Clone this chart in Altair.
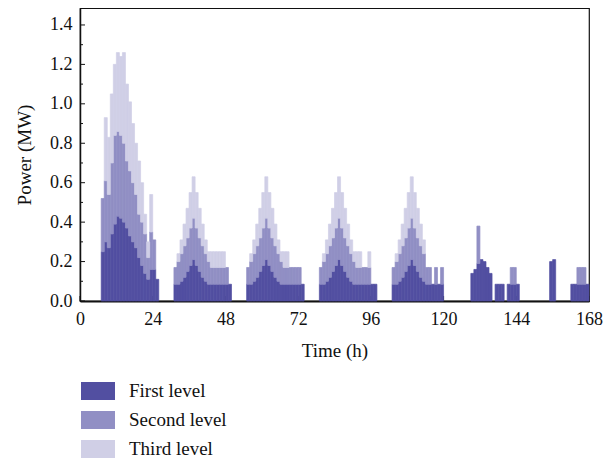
import altair as alt
import pandas as pd

# ---- data (hourly power per level, MW); each block: start hour + hourly values ----
b1_start = 7
b1_first  = [0.25, 0.30, 0.27, 0.34, 0.39, 0.43, 0.42, 0.40, 0.37, 0.33, 0.30, 0.27, 0.22, 0.18, 0.14, 0.11, 0.16, 0.16, 0.11]
b1_second = [0.27, 0.31, 0.27, 0.36, 0.45, 0.43, 0.42, 0.40, 0.34, 0.33, 0.30, 0.27, 0.22, 0.22, 0.20, 0.11, 0.19, 0.15, 0.00]
b1_third  = [0.00, 0.32, 0.29, 0.35, 0.36, 0.40, 0.40, 0.46, 0.39, 0.35, 0.30, 0.26, 0.27, 0.20, 0.10, 0.08, 0.19, 0.00, 0.00]

b2_start = 31
b2_first  = [0.085, 0.085, 0.10, 0.12, 0.15, 0.18, 0.21, 0.18, 0.15, 0.12, 0.10, 0.085, 0.085, 0.085, 0.085, 0.085, 0.085, 0.085, 0.085]
b2_second = [0.085, 0.115, 0.14, 0.16, 0.17, 0.19, 0.21, 0.19, 0.17, 0.16, 0.14, 0.115, 0.085, 0.085, 0.085, 0.085, 0.085, 0.085, 0.00]
b2_third  = [0.00, 0.04, 0.07, 0.11, 0.15, 0.18, 0.21, 0.18, 0.15, 0.11, 0.07, 0.05, 0.08, 0.08, 0.08, 0.08, 0.08, 0.00, 0.00]

b3_start = 55
b3_first  = [0.085, 0.085, 0.10, 0.12, 0.15, 0.18, 0.21, 0.18, 0.15, 0.12, 0.10, 0.085, 0.085, 0.085, 0.085, 0.085, 0.085, 0.085, 0.085]
b3_second = [0.085, 0.115, 0.14, 0.16, 0.17, 0.19, 0.21, 0.19, 0.17, 0.16, 0.14, 0.115, 0.085, 0.085, 0.085, 0.085, 0.085, 0.085, 0.00]
b3_third  = [0.00, 0.04, 0.07, 0.11, 0.15, 0.18, 0.21, 0.18, 0.15, 0.11, 0.07, 0.05, 0.08, 0.08, 0.00, 0.00, 0.00, 0.00, 0.00]

b4_start = 79
b4_first  = [0.085, 0.085, 0.10, 0.12, 0.15, 0.18, 0.21, 0.18, 0.15, 0.12, 0.10, 0.085, 0.085, 0.085, 0.085, 0.085, 0.085, 0.085, 0.085]
b4_second = [0.085, 0.115, 0.14, 0.16, 0.17, 0.19, 0.21, 0.19, 0.17, 0.16, 0.14, 0.115, 0.085, 0.085, 0.085, 0.085, 0.085, 0.00, 0.00]
b4_third  = [0.00, 0.04, 0.07, 0.11, 0.15, 0.18, 0.21, 0.18, 0.15, 0.11, 0.07, 0.05, 0.08, 0.08, 0.00, 0.00, 0.08, 0.00, 0.00]

b5_start = 103
b5_first  = [0.085, 0.085, 0.10, 0.12, 0.15, 0.18, 0.21, 0.18, 0.15, 0.12, 0.10, 0.085, 0.085, 0.085, 0.085, 0.085, 0.085]
b5_second = [0.085, 0.115, 0.14, 0.16, 0.17, 0.19, 0.21, 0.19, 0.17, 0.16, 0.14, 0.085, 0.085, 0.00, 0.085, 0.00, 0.085]
b5_third  = [0.00, 0.04, 0.07, 0.11, 0.15, 0.18, 0.21, 0.18, 0.15, 0.11, 0.07, 0.00, 0.00, 0.00, 0.00, 0.00, 0.00]

b6_start = 129
b6_first  = [0.14, 0.16, 0.19, 0.21, 0.20, 0.17, 0.14]
b6_second = [0.00, 0.00, 0.19, 0.00, 0.00, 0.00, 0.00]

b7_start = 137
b7_first  = [0.085, 0.085, 0.085]

b8_start = 141
b8_first  = [0.085, 0.085, 0.085, 0.085]
b8_second = [0.00, 0.085, 0.085, 0.00]

b9_start = 155
b9_first  = [0.20, 0.21]

b10_start = 162
b10_first  = [0.085, 0.085, 0.085, 0.085, 0.085, 0.085]
b10_second = [0.00, 0.00, 0.085, 0.085, 0.085, 0.00]

levels = ["First level", "Second level", "Third level"]
colors = ["#524fa1", "#918fc4", "#d0cfe6"]
x_ticks = [0, 24, 48, 72, 96, 120, 144, 168]
y_ticks = [0.0, 0.2, 0.4, 0.6, 0.8, 1.0, 1.2, 1.4]
y_minor = [0.1, 0.3, 0.5, 0.7, 0.9, 1.1, 1.3]

blocks = [
    (b1_start, b1_first, b1_second, b1_third),
    (b2_start, b2_first, b2_second, b2_third),
    (b3_start, b3_first, b3_second, b3_third),
    (b4_start, b4_first, b4_second, b4_third),
    (b5_start, b5_first, b5_second, b5_third),
    (b6_start, b6_first, b6_second, None),
    (b7_start, b7_first, None, None),
    (b8_start, b8_first, b8_second, None),
    (b9_start, b9_first, None, None),
    (b10_start, b10_first, b10_second, None),
]

rows = []
for start, f, s, t in blocks:
    for i in range(len(f)):
        h = start + i
        base = 0.0
        for lvl, arr in zip(levels, (f, s, t)):
            v = arr[i] if arr is not None else 0.0
            if v > 0:
                rows.append({"start": h, "end": h + 1, "level": lvl,
                             "y0": base, "y1": base + v, "order": levels.index(lvl)})
            base += v
df = pd.DataFrame(rows)

W, H = 509, 293
YMAX = 1.486
FONT = "Liberation Serif"

x_scale = alt.Scale(domain=[0, 168], nice=False, zero=False)
y_scale = alt.Scale(domain=[0, YMAX], nice=False)
x_axis = alt.Axis(values=x_ticks, title="Time (h)", format="d", labelFlush=False)
y_axis = alt.Axis(values=y_ticks, format=".1f", title="Power (MW)", labelFlush=False)
color_scale = alt.Scale(domain=levels, range=colors)

bars = alt.Chart(df).mark_bar(strokeWidth=0.7).encode(
    x=alt.X("start:Q", scale=x_scale, axis=x_axis),
    x2="end:Q",
    y=alt.Y("y0:Q", scale=y_scale, axis=y_axis),
    y2="y1:Q",
    color=alt.Color("level:N", scale=color_scale,
                    legend=alt.Legend(title=None, orient="none", legendX=1, legendY=366,
                                      symbolType="M-1,-0.53L1,-0.53L1,0.53L-1,0.53Z",
                                      symbolSize=1156, symbolStrokeWidth=0,
                                      symbolOpacity=1,
                                      labelFont=FONT, labelFontSize=19, labelColor="#111",
                                      labelOffset=14, rowPadding=2)),
    stroke=alt.Stroke("level:N", scale=color_scale, legend=None),
    order="order:Q",
)

ytick_major = alt.Chart(pd.DataFrame({"v": y_ticks})).mark_rule(color="#111", strokeWidth=1).encode(
    y=alt.Y("v:Q", scale=y_scale, axis=y_axis), x=alt.value(0), x2=alt.value(5))
ytick_minor = alt.Chart(pd.DataFrame({"v": y_minor})).mark_rule(color="#111", strokeWidth=1).encode(
    y=alt.Y("v:Q", scale=y_scale, axis=y_axis), x=alt.value(0), x2=alt.value(3))
xtick = alt.Chart(pd.DataFrame({"v": x_ticks})).mark_rule(color="#111", strokeWidth=1).encode(
    x=alt.X("v:Q", scale=x_scale, axis=x_axis), y=alt.value(H), y2=alt.value(H - 5))

chart = alt.layer(xtick, ytick_major, ytick_minor, bars).properties(
    width=W, height=H,
    autosize=alt.AutoSizeParams(type="none"),
    padding={"left": 72, "top": 0, "right": 19, "bottom": 157},
).configure_view(
    stroke="#111", strokeWidth=1.2
).configure_axis(
    labelFont=FONT, titleFont=FONT, labelFontSize=18, titleFontSize=19,
    labelColor="#111", titleColor="#111", titleFontWeight="normal",
    grid=False, ticks=False, domainColor="#111",
).configure_axisX(
    domainWidth=2, labelPadding=9, titlePadding=13,
).configure_axisY(
    domainWidth=1.5, labelPadding=8, titlePadding=15,
)

chart.save("out.html", embed_options={"renderer": "svg", "actions": False})
